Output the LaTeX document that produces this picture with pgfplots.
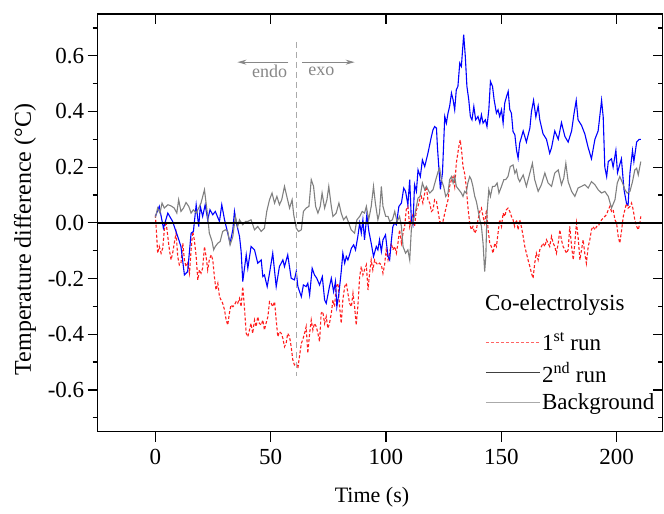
\documentclass[border=0pt]{standalone}
\usepackage{fontspec}
\setmainfont{Liberation Serif}
\usepackage{pgfplots}
\pgfplotsset{compat=1.18}
\usetikzlibrary{arrows.meta}
\definecolor{bgray}{RGB}{128,128,128}
\definecolor{lgray}{RGB}{170,170,170}
\definecolor{rred}{RGB}{255,30,30}
\definecolor{lred}{RGB}{255,100,100}
\definecolor{dgray}{RGB}{64,64,64}
\definecolor{agray}{RGB}{135,135,135}
\definecolor{bblue}{RGB}{0,0,255}
\begin{document}
\begin{tikzpicture}
\pgfplotsset{
  commonax/.style={
    scale only axis, width=565pt, height=417.7pt,
    xmin=-25, xmax=220, ymin=-0.75, ymax=0.75,
    xtick={0,50,100,150,200},
    ytick={-0.6,-0.4,-0.2,0,0.2,0.4,0.6},
    minor ytick={-0.7,-0.5,-0.3,-0.1,0.1,0.3,0.5,0.7},
    major tick length=10pt, minor tick length=5pt,
    every tick/.style={black, line width=1.2pt},
    axis line style={line width=1.3pt},
  }
}
\begin{axis}[commonax,
  xticklabels={\textrm{0},\textrm{50},\textrm{100},\textrm{150},\textrm{200}},
  yticklabels={\textrm{-0.6},\textrm{-0.4},\textrm{-0.2},\textrm{0.0},\textrm{0.2},\textrm{0.4},\textrm{0.6}},
  xtick pos=left, ytick pos=left, tick align=outside,
  tick label style={font=\fontsize{23}{27}\selectfont, /pgf/number format/assume math mode=true},
  xticklabel style={yshift=-4pt},
  xlabel={Time (s)}, ylabel={Temperature difference (°C)},
  xlabel style={font=\fontsize{22}{26}\selectfont, at={(axis description cs:0.4855,-0.156)}, anchor=center},
  ylabel style={font=\fontsize{24}{28}\selectfont, at={(axis description cs:-0.1287,0.46)}, anchor=center},
  legend style={at={(axis description cs:0.6855,0.242)}, anchor=north west, draw=none, fill=none,
    font=\fontsize{23}{27}\selectfont, row sep=7pt, inner sep=0pt, nodes={inner sep=1.5pt}},
  legend cell align=left,
  legend image code/.code={\draw[#1] (0pt,0pt) -- (54pt,0pt);},
]
\addlegendimage{lred, line width=1.1pt, dash pattern=on 3pt off 2pt}
\addlegendentry{1\textsuperscript{st} run}
\addlegendimage{dgray, line width=1.1pt}
\addlegendentry{2\textsuperscript{nd} run}
\addlegendimage{lgray, line width=1.3pt}
\addlegendentry{Background}

% 1st run (red dashed)
\addplot[forget plot, rred, line width=1.1pt, dash pattern=on 3pt off 2pt] coordinates {
(0,0.029)(0.6,-0.049)(1.0,-0.109)(1.7,-0.085)(2.5,-0.109)(3.2,-0.091)(3.9,-0.025)(4.6,0.005)(5.4,-0.049)(6.1,-0.097)(6.8,-0.133)(7.5,-0.109)(8.2,-0.073)(9.0,-0.037)(9.7,-0.121)(10.4,-0.151)(11.1,-0.145)(11.9,-0.073)(12.6,-0.133)(13.3,-0.157)(14.0,-0.145)(14.8,-0.181)(15.5,-0.097)(16.2,-0.031)(16.9,-0.061)(17.7,-0.121)(18.4,-0.205)(19.1,-0.169)(19.8,-0.181)(20.5,-0.163)(21.3,-0.085)(22.0,-0.121)(22.7,-0.169)(23.4,-0.133)(24.2,-0.115)(24.9,-0.133)(25.6,-0.193)(26.3,-0.241)(27.1,-0.217)(27.8,-0.265)(28.5,-0.277)(29.2,-0.289)(30.0,-0.313)(30.7,-0.349)(31.4,-0.367)(32.1,-0.325)(32.8,-0.295)(33.6,-0.301)(34.3,-0.295)(35.0,-0.283)(35.7,-0.289)(36.5,-0.271)(37.2,-0.301)(37.9,-0.229)(38.6,-0.301)(39.4,-0.397)(40.1,-0.409)(40.8,-0.385)(41.5,-0.361)(42.2,-0.397)(43.0,-0.349)(43.7,-0.373)(44.4,-0.337)(45.1,-0.361)(45.9,-0.367)(46.6,-0.349)(47.3,-0.385)(48.0,-0.361)(48.8,-0.337)(49.5,-0.283)(50.2,-0.289)(50.9,-0.301)(51.7,-0.283)(52.4,-0.349)(53.1,-0.409)(53.8,-0.391)(54.6,-0.397)(55.3,-0.415)(56.0,-0.445)(56.7,-0.433)(57.4,-0.397)(58.2,-0.409)(58.9,-0.445)(59.6,-0.492)(60.3,-0.51)(61.1,-0.504)(61.8,-0.522)(62.5,-0.48)(63.3,-0.433)(63.9,-0.42)(64.7,-0.397)(65.4,-0.373)(66.1,-0.468)(66.9,-0.397)(67.6,-0.349)(68.3,-0.385)(69.0,-0.361)(69.8,-0.373)(70.5,-0.397)(71.2,-0.426)(71.9,-0.325)(72.6,-0.319)(73.4,-0.361)(74.1,-0.337)(74.8,-0.379)(75.5,-0.361)(76.3,-0.325)(77.0,-0.277)(77.7,-0.301)(78.4,-0.229)(79.2,-0.217)(79.9,-0.301)(80.6,-0.361)(81.3,-0.277)(82.1,-0.229)(82.8,-0.217)(83.5,-0.253)(84.2,-0.289)(85.0,-0.301)(85.7,-0.253)(86.4,-0.301)(87.1,-0.367)(87.8,-0.301)(88.6,-0.193)(89.3,-0.157)(90.0,-0.187)(90.7,-0.169)(91.5,-0.151)(92.2,-0.241)(92.9,-0.181)(93.6,-0.133)(94.3,-0.169)(95.1,-0.133)(95.8,-0.145)(96.5,-0.151)(97.2,-0.145)(98.0,-0.151)(98.7,-0.181)(99.4,-0.151)(100.1,-0.097)(100.9,-0.133)(101.6,-0.109)(102.3,-0.073)(103.0,-0.097)(103.8,-0.085)(104.5,-0.109)(105.2,-0.073)(105.9,-0.025)(106.7,-0.073)(107.4,-0.037)(108.1,-0.013)(108.8,0.047)(109.5,0.059)(110.3,-0.013)(111.0,0.017)(111.7,0.029)(112.4,-0.013)(113.2,0.047)(113.9,0.059)(114.6,0.083)(115.3,0.095)(116.0,0.071)(116.8,0.107)(117.5,0.131)(118.2,0.083)(119.0,0.071)(119.7,0.041)(120.4,0.047)(121.1,0.083)(121.9,0.077)(122.6,0.041)(123.3,0.005)(124.0,-0.001)(124.7,0.005)(125.5,0.035)(126.2,0.059)(126.9,0.083)(127.6,0.131)(128.4,0.155)(129.1,0.166)(129.8,0.131)(130.5,0.214)(131.6,0.274)(132.2,0.298)(132.9,0.25)(133.4,0.202)(134.1,0.178)(134.8,0.131)(135.5,0.059)(136.3,-0.001)(137.0,-0.025)(137.7,-0.013)(138.5,-0.037)(139.2,-0.025)(139.9,0.011)(140.7,0.041)(141.4,0.053)(142.1,0.023)(142.8,-0.001)(143.6,0.047)(144.3,-0.025)(145.0,-0.073)(145.7,-0.085)(146.4,-0.109)(147.2,-0.073)(147.9,-0.085)(148.6,-0.037)(149.3,0.011)(150.1,-0.013)(150.8,0.035)(151.5,0.023)(152.2,0.047)(152.9,0.053)(153.7,0.041)(154.4,0.023)(155.1,0.011)(155.8,-0.013)(156.6,0.011)(157.3,-0.025)(158.0,0.011)(158.7,-0.013)(159.5,-0.049)(160.2,-0.085)(160.9,-0.109)(161.6,-0.133)(162.4,-0.157)(163.1,-0.181)(163.8,-0.199)(164.5,-0.145)(165.2,-0.109)(166.0,-0.133)(166.7,-0.097)(167.4,-0.085)(168.1,-0.073)(168.9,-0.085)(169.6,-0.061)(170.3,-0.073)(171.0,-0.085)(171.8,-0.049)(172.5,-0.073)(173.2,-0.085)(173.9,-0.109)(174.7,-0.073)(175.4,-0.025)(176.1,-0.061)(176.8,-0.085)(177.6,-0.097)(178.3,-0.109)(179.0,-0.097)(179.7,-0.013)(180.5,-0.085)(181.2,-0.133)(181.9,-0.073)(182.6,-0.001)(183.3,-0.049)(184.1,-0.133)(184.8,-0.097)(185.5,-0.061)(186.2,-0.109)(186.9,-0.145)(187.7,-0.085)(188.4,-0.061)(189.1,-0.025)(189.8,-0.013)(190.6,-0.025)(191.3,-0.013)(192.0,-0.013)(192.7,-0.001)(193.5,0.011)(194.2,0.017)(194.9,0.023)(195.6,0.029)(196.4,0.047)(197.1,0.059)(197.8,0.041)(198.5,0.047)(199.3,0.011)(200.0,-0.001)(200.7,-0.049)(201.4,-0.073)(202.2,-0.025)(202.9,0.023)(203.6,0.047)(204.3,0.071)(205.0,0.053)(205.8,0.059)(206.5,0.071)(207.2,0.047)(207.9,0.011)(208.7,-0.013)(209.4,-0.025)(210.1,-0.001)(210.5,0.023)
};
% 2nd run (blue)
\addplot[forget plot, bblue, line width=1.1pt] coordinates {
(0,0.023)(1.7,0.059)(3.5,-0.019)(5.4,0.035)(7.5,0.005)(8.7,-0.025)(9.7,-0.049)(11.1,-0.085)(12.6,-0.187)(14.0,-0.175)(15.5,-0.037)(16.5,-0.031)(17.7,0.065)(18.8,-0.013)(19.5,0.059)(20.5,0.023)(21.6,0.065)(22.7,0.011)(23.7,0.047)(24.9,0.029)(26.0,0.041)(27.8,0.005)(28.8,0.065)(30.0,0.011)(31.4,-0.037)(32.4,-0.073)(33.6,-0.025)(34.3,0.041)(35.0,0.005)(36.5,-0.049)(37.2,-0.103)(37.9,-0.211)(39.4,-0.115)(40.1,-0.163)(41.5,-0.085)(43.0,-0.097)(44.4,-0.145)(45.9,-0.133)(46.6,-0.193)(47.3,-0.187)(48.5,-0.229)(49.5,-0.181)(50.9,-0.109)(52.4,-0.229)(53.8,-0.157)(55.3,-0.133)(56.0,-0.157)(57.4,-0.115)(58.9,-0.199)(60.3,-0.205)(61.1,-0.175)(61.8,-0.229)(63.3,-0.265)(64.2,-0.223)(65.4,-0.229)(66.1,-0.217)(66.9,-0.259)(68.0,-0.163)(69.0,-0.187)(70.0,-0.199)(71.2,-0.223)(72.4,-0.193)(73.4,-0.277)(74.1,-0.289)(75.5,-0.229)(76.3,-0.199)(77.3,-0.247)(78.1,-0.211)(78.7,-0.301)(79.6,-0.253)(80.6,-0.175)(81.3,-0.109)(82.1,-0.145)(82.8,-0.121)(83.5,-0.133)(84.2,-0.115)(85.0,-0.091)(86.0,-0.079)(86.8,-0.097)(87.8,-0.049)(88.6,-0.001)(89.3,-0.037)(90.0,0.011)(90.7,-0.061)(91.7,0.029)(92.6,-0.031)(93.6,-0.073)(94.6,-0.121)(95.8,-0.085)(96.5,-0.097)(97.2,-0.061)(98.0,-0.103)(98.7,-0.061)(99.8,-0.043)(100.9,-0.121)(101.6,-0.133)(102.3,-0.067)(103.0,-0.013)(103.8,-0.001)(104.5,-0.007)(105.6,0.059)(106.7,0.071)(107.7,0.125)(108.5,0.113)(109.5,0.065)(110.3,0.155)(111.0,0.011)(111.7,-0.007)(112.4,0.137)(113.2,0.113)(113.9,0.19)(114.9,0.166)(115.8,0.226)(116.8,0.202)(117.5,0.226)(118.2,0.25)(119.7,0.31)(120.4,0.334)(121.1,0.346)(121.9,0.34)(122.3,0.274)(123.0,0.19)(123.6,0.12)(124.5,0.18)(125.5,0.382)(126.2,0.358)(126.9,0.394)(127.6,0.418)(128.4,0.466)(129.1,0.442)(129.8,0.406)(130.5,0.478)(131.2,0.49)(132.0,0.574)(132.7,0.562)(133.7,0.676)(134.4,0.598)(135.1,0.49)(135.9,0.442)(136.6,0.382)(137.3,0.37)(138.1,0.418)(138.9,0.37)(139.9,0.382)(140.7,0.358)(141.4,0.388)(142.1,0.358)(143.1,0.37)(143.8,0.346)(144.6,0.406)(145.3,0.508)(146.2,0.49)(146.9,0.442)(147.9,0.394)(148.6,0.406)(149.3,0.382)(150.1,0.406)(150.8,0.358)(151.5,0.43)(152.3,0.454)(153.0,0.472)(153.7,0.406)(154.4,0.394)(155.1,0.328)(155.9,0.316)(156.6,0.262)(157.3,0.232)(158.0,0.286)(159.5,0.33)(160.9,0.29)(162.4,0.34)(163.1,0.40)(164.0,0.44)(165.0,0.38)(166.0,0.42)(166.7,0.37)(168.1,0.32)(169.6,0.30)(171.0,0.25)(171.8,0.27)(173.2,0.33)(174.7,0.30)(176.1,0.36)(177.6,0.31)(179.0,0.29)(180.5,0.33)(181.5,0.39)(182.5,0.44)(183.3,0.37)(184.8,0.35)(186.2,0.32)(187.7,0.27)(189.1,0.23)(190.6,0.30)(192.0,0.33)(193.5,0.44)(194.2,0.38)(194.9,0.20)(195.7,0.166)(196.4,0.22)(197.8,0.23)(198.5,0.20)(199.7,0.26)(200.4,0.18)(201.4,0.21)(202.1,0.23)(203.2,0.12)(204.3,0.07)(205.0,0.065)(205.8,0.18)(206.9,0.26)(207.5,0.22)(208.7,0.29)(209.8,0.30)(210.5,0.30)
};
% Background (gray)
\addplot[forget plot, bgray, line width=1.1pt] coordinates {
(0,0.019)(1.0,0.053)(2.0,0.035)(2.9,0.071)(3.9,0.053)(5.4,0.065)(6.8,0.061)(8.2,0.053)(9.3,0.035)(10.1,0.083)(11.1,0.041)(12.2,0.053)(13.3,0.073)(14.5,0.059)(15.5,0.035)(16.5,0.047)(17.7,0.035)(18.8,0.053)(19.8,0.071)(21.3,0.119)(22.0,0.071)(22.7,0.023)(23.4,-0.037)(24.6,-0.067)(25.3,-0.097)(26.0,-0.085)(27.1,-0.073)(28.1,-0.067)(29.2,-0.031)(30.4,-0.025)(31.4,-0.031)(32.4,-0.079)(33.6,-0.049)(34.7,0.023)(35.7,-0.013)(36.5,0.011)(37.9,-0.007)(39.1,0.005)(40.1,0.005)(41.5,0.011)(43.0,-0.025)(44.4,-0.013)(45.9,-0.031)(47.3,-0.019)(48.3,0.041)(49.5,0.083)(50.6,0.107)(51.7,0.071)(52.7,0.095)(53.8,0.065)(54.8,0.083)(56.0,0.131)(57.0,0.095)(58.2,0.053)(59.3,0.083)(60.0,0.029)(61.1,-0.019)(62.1,-0.031)(63.3,-0.025)(64.2,0.041)(65.4,0.053)(66.6,0.059)(67.6,0.155)(68.6,0.131)(69.5,0.059)(70.5,0.035)(71.5,0.059)(72.3,0.107)(73.4,0.053)(74.4,0.083)(75.2,0.131)(76.3,0.059)(77.0,0.023)(78.4,0.035)(79.6,0.071)(80.6,0.035)(81.6,0.011)(82.8,0.023)(83.9,-0.001)(84.9,-0.025)(86.4,-0.037)(87.4,0.011)(88.6,0.023)(89.7,0.041)(90.7,0.035)(91.5,0.059)(92.5,0.011)(93.6,0.059)(94.6,0.131)(95.4,0.071)(96.5,0.011)(97.2,0.035)(98.0,0.131)(98.7,0.059)(99.9,0.023)(100.9,0.023)(101.6,0.005)(102.8,0.011)(103.8,0.041)(104.8,0.005)(105.9,0.023)(106.7,-0.013)(107.4,-0.085)(108.5,-0.109)(109.5,-0.097)(110.3,-0.133)(111.0,-0.025)(111.7,0.011)(112.4,0.023)(113.2,0.059)(113.9,0.089)(114.8,0.095)(115.8,0.143)(116.8,0.119)(117.5,0.131)(119.0,0.107)(120.4,0.119)(121.6,0.155)(122.6,0.184)(123.3,0.196)(124.0,0.155)(125.0,0.131)(125.9,0.095)(126.9,0.107)(127.6,0.155)(128.4,0.166)(129.1,0.143)(129.8,0.166)(130.5,0.131)(131.6,0.119)(132.7,0.107)(133.4,0.095)(134.1,0.113)(134.8,0.107)(135.5,0.143)(136.3,0.166)(137.0,0.155)(137.7,0.131)(138.5,0.095)(139.2,0.077)(139.9,0.047)(140.7,0.011)(141.4,-0.013)(142.1,-0.073)(142.8,-0.175)(143.3,-0.121)(143.8,0.035)(144.6,0.119)(145.3,0.095)(146.2,0.131)(147.2,0.131)(148.2,0.143)(149.0,0.107)(150.1,0.131)(151.1,0.155)(151.9,0.155)(152.9,0.166)(153.9,0.202)(155.1,0.208)(155.9,0.178)(156.6,0.19)(157.3,0.16)(158.0,0.148)(159.5,0.172)(160.9,0.131)(162.4,0.179)(163.5,0.214)(164.5,0.155)(166.0,0.113)(167.4,0.137)(168.9,0.179)(170.3,0.143)(171.8,0.131)(173.2,0.179)(174.7,0.19)(176.1,0.137)(177.1,0.161)(178.0,0.214)(179.0,0.148)(180.5,0.113)(181.9,0.095)(183.3,0.125)(184.8,0.131)(186.2,0.137)(187.7,0.125)(189.1,0.148)(190.6,0.137)(192.0,0.119)(193.5,0.107)(194.9,0.113)(196.4,0.095)(197.8,0.053)(199.3,0.083)(200.3,0.143)(201.4,0.166)(202.6,0.143)(203.6,0.119)(204.6,0.107)(205.8,0.113)(206.9,0.148)(207.9,0.19)(208.7,0.196)(209.4,0.172)(210.5,0.22)
};
% zero line
\draw[black, line width=2pt] (axis cs:-25,0) -- (axis cs:220,0);
% endo/exo marker
\draw[lgray, line width=1pt, dash pattern=on 6pt off 4pt] (axis cs:61.2,0.65) -- (axis cs:61.2,-0.55);
\draw[agray, line width=1pt, -{Stealth[length=9pt,width=5pt]}] (axis cs:57.7,0.577) -- (axis cs:35.6,0.577);
\draw[agray, line width=1pt, -{Stealth[length=9pt,width=5pt]}] (axis cs:63.8,0.577) -- (axis cs:86.4,0.577);
\node[agray, font=\fontsize{18}{21}\selectfont] at (axis cs:49.5,0.543) {endo};
\node[agray, font=\fontsize{18}{21}\selectfont] at (axis cs:72,0.543) {exo};
% legend title
\node[anchor=west, inner sep=0pt, font=\fontsize{23}{27}\selectfont] at (axis description cs:0.6855,0.303) {Co-electrolysis};
\end{axis}
\begin{axis}[commonax,
  xticklabels={}, yticklabels={},
  xtick pos=right, ytick pos=right, tick align=inside,
]
\end{axis}
\path (current axis.south west) +(-97.7pt,-82.3pt) coordinate (bbsw);
\path (current axis.north east) +(1.3pt,14pt) coordinate (bbne);
\pgfresetboundingbox
\path[use as bounding box] (bbsw) rectangle (bbne);
\end{tikzpicture}
\end{document}
